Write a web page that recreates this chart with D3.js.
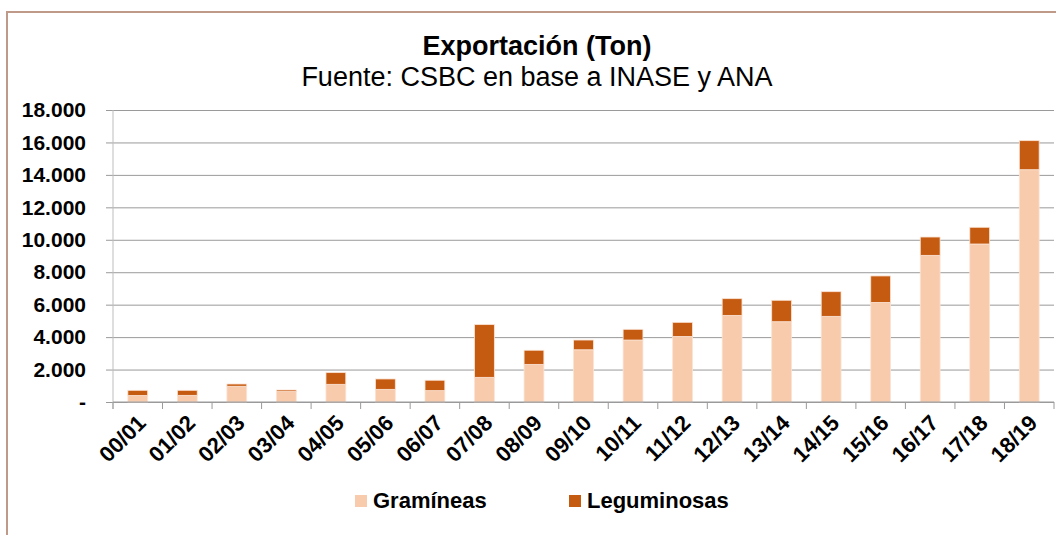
<!DOCTYPE html>
<html>
<head>
<meta charset="utf-8">
<script src="https://cdn.jsdelivr.net/npm/d3@7"></script>
<style>
  body { margin: 0; background: #fff; }
  text { font-family: "Liberation Sans", Arial, sans-serif; }
</style>
</head>
<body>
<script>
// data (tons)
var campaigns = ["00/01", "01/02", "02/03", "03/04", "04/05", "05/06", "06/07", "07/08", "08/09", "09/10",
  "10/11", "11/12", "12/13", "13/14", "14/15", "15/16", "16/17", "17/18", "18/19"]
var gramineas = [400, 410, 970, 640, 1090, 780, 700, 1520, 2320, 3220,
  3820, 4040, 5340, 4950, 5280, 6140, 9040, 9740, 14320]
var leguminosas = [320, 310, 140, 100, 720, 640, 640, 3250, 870, 600,
  660, 870, 1030, 1320, 1520, 1630, 1130, 1030, 1790]
var yTicks = [0, 2000, 4000, 6000, 8000, 10000, 12000, 14000, 16000, 18000]
var seriesNames = ["Gramíneas", "Leguminosas"]
var colors = ["#f8cbad", "#c55a11"]

var W = 1056, H = 535
var svg = d3.select("body").append("svg")
  .attr("width", W)
  .attr("height", H)

// chart border (only top and left show inside the picture)
svg.append("rect")
  .attr("x", 7).attr("y", 12)
  .attr("width", W + 20).attr("height", H + 20)
  .attr("fill", "none")
  .attr("stroke", "#c09a88")
  .attr("stroke-width", 2)

// title
svg.append("text")
  .attr("x", 537).attr("y", 55)
  .attr("text-anchor", "middle")
  .style("font-size", "27px").style("font-weight", "bold")
  .text("Exportación (Ton)")
svg.append("text")
  .attr("x", 537).attr("y", 86)
  .attr("text-anchor", "middle")
  .style("font-size", "27px")
  .text("Fuente: CSBC en base a INASE y ANA")

var plotL = 113, plotR = 1054, plotT = 110, plotB = 402

var x = d3.scaleBand().domain(campaigns).range([plotL, plotR]).paddingInner(0.6).paddingOuter(0.3)
var y = d3.scaleLinear().domain([0, 18000]).range([plotB, plotT])

// gridlines + y labels
var fmt = function (d) { return d === 0 ? "-" : d3.format(",")(d).replace(/,/g, ".") }
var yAxis = svg.append("g")
  .attr("transform", "translate(" + plotL + ",0)")
  .call(d3.axisLeft(y).tickValues(yTicks).tickSize(-(plotR - plotL)).tickPadding(0).tickFormat(fmt))
yAxis.select(".domain").remove()
yAxis.selectAll(".tick line")
  .attr("x1", -7)
  .attr("stroke", "#9a9a9a")
yAxis.selectAll(".tick text")
  .attr("x", -27)
  .attr("fill", "#000")
  .style("font-size", "21px").style("font-weight", "bold").style("font-family", "Liberation Sans, Arial, sans-serif")

// stacked bars
var stackData = campaigns.map(function (c, i) { return { c: c, g: gramineas[i], l: leguminosas[i] } })
var stacked = d3.stack().keys(["g", "l"])(stackData)

svg.selectAll("g.series")
  .data(stacked)
  .enter().append("g")
  .attr("class", "series")
  .attr("fill", function (d, i) { return colors[i] })
  .selectAll("rect")
  .data(function (d) { return d })
  .enter().append("rect")
  .attr("x", function (d) { return x(d.data.c) })
  .attr("width", x.bandwidth())
  .attr("y", function (d) { return y(d[1]) })
  .attr("height", function (d) { return y(d[0]) - y(d[1]) })
  .attr("stroke", "#fbe3d4")
  .attr("stroke-width", 0.8)

// y axis line
svg.append("line")
  .attr("x1", plotL).attr("x2", plotL)
  .attr("y1", plotT).attr("y2", plotB + 7)
  .attr("stroke", "#bdbdbd")

// x axis with ticks between categories
var step = (plotR - plotL) / campaigns.length
var xAxisG = svg.append("g")
xAxisG.append("line")
  .attr("x1", plotL).attr("x2", plotR)
  .attr("y1", plotB).attr("y2", plotB)
  .attr("stroke", "#9a9a9a")
xAxisG.selectAll("line.tk")
  .data(d3.range(campaigns.length + 1))
  .enter().append("line")
  .attr("class", "tk")
  .attr("x1", function (i) { return plotL + i * step })
  .attr("x2", function (i) { return plotL + i * step })
  .attr("y1", plotB).attr("y2", plotB + 7)
  .attr("stroke", "#9a9a9a")

xAxisG.selectAll("text")
  .data(campaigns)
  .enter().append("text")
  .attr("transform", function (d) {
    return "translate(" + (x(d) + x.bandwidth() / 2 + 4) + "," + (plotB + 17) + ") rotate(-45)"
  })
  .attr("text-anchor", "end")
  .attr("dy", "0.35em")
  .style("font-size", "22px").style("font-weight", "bold")
  .text(function (d) { return d })

// legend
var legendX = [355, 569]
var legend = svg.selectAll("g.legend")
  .data(seriesNames)
  .enter().append("g")
  .attr("class", "legend")
  .attr("transform", function (d, i) { return "translate(" + legendX[i] + ",495)" })
legend.append("rect")
  .attr("width", 12).attr("height", 12)
  .attr("fill", function (d, i) { return colors[i] })
legend.append("text")
  .attr("x", 18).attr("y", 13)
  .style("font-size", "22px").style("font-weight", "bold")
  .text(function (d) { return d })
</script>
</body>
</html>
